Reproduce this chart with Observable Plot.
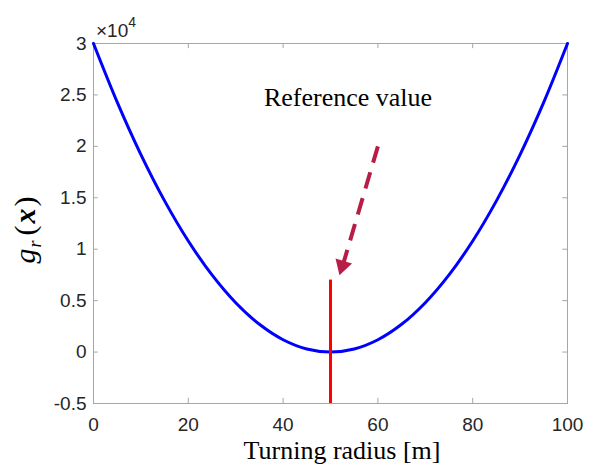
<!DOCTYPE html>
<html><head><meta charset="utf-8">
<script src="https://cdn.jsdelivr.net/npm/d3@7"></script>
<script src="https://cdn.jsdelivr.net/npm/@observablehq/plot@0.6"></script>
<style>body{margin:0;background:#fff;} svg{display:block;}</style>
</head><body><div id="chart"></div>
<script>
// Turning radius [m]
const radius = [0, 5, 10, 15, 20, 25, 30, 35, 40, 45, 50, 55, 60, 65, 70, 75, 80, 85, 90, 95, 100];
// g_r(x) values
const gValues = [30000, 24300, 19200, 14700, 10800, 7500, 4800, 2700, 1200, 300, 0, 300, 1200, 2700, 4800, 7500, 10800, 14700, 19200, 24300, 30000];
const xTicks = [0, 20, 40, 60, 80, 100];
const yTicks = [-0.5, 0, 0.5, 1, 1.5, 2, 2.5, 3];
const yTickLabels = ["-0.5", "0", "0.5", "1", "1.5", "2", "2.5", "3"];
const refX = [50];
const refTop = [0.7];
// annotation arrow (in units of 1e4 for y)
const arrowShaft = [{x1: 60, y1: 2.0, x2: 52.7, y2: 0.86}];
const arrowHead = [{x: 52.5, y: 0.84, angle: 196.7}];
const annotation = [{x: 53.7, y: 2.388, text: "Reference value"}];

const curve = radius.map((r, i) => ({r, g: gValues[i] / 1e4}));
const tickColor = "#262626";
const boxColor = "#a6a6a6";
const arrowColor = "#b81d48";

const plot = Plot.plot({
  width: 589, height: 473,
  marginLeft: 93, marginRight: 22, marginTop: 43, marginBottom: 70,
  x: {domain: [0, 100], ticks: xTicks},
  y: {domain: [-0.5, 3], ticks: yTicks},
  style: {fontFamily: "Liberation Sans, Arial, sans-serif", color: tickColor, background: "#fff"},
  marks: [
    Plot.frame({stroke: boxColor, strokeWidth: 1}),
    // inward ticks on all four sides
    Plot.ruleX(xTicks, {x: d => d, y1: -0.5, y2: -0.45, stroke: boxColor}),
    Plot.ruleX(xTicks, {x: d => d, y1: 3, y2: 2.95, stroke: boxColor}),
    Plot.ruleY(yTicks, {y: d => d, x1: 0, x2: 1, stroke: boxColor}),
    Plot.ruleY(yTicks, {y: d => d, x1: 100, x2: 99, stroke: boxColor}),
    Plot.axisX(xTicks, {tickSize: 0, tickPadding: 14, fontSize: 19, fill: tickColor, label: null}),
    Plot.axisY(yTicks, {tickSize: 0, tickPadding: 7, fontSize: 19, fill: tickColor, label: null,
      tickFormat: (d) => yTickLabels[yTicks.indexOf(d)]}),
    Plot.line(curve, {x: "r", y: "g", stroke: "#0000ff", strokeWidth: 3, curve: "catmull-rom"}),
    Plot.ruleX(refX, {x: d => d, y1: -0.5, y2: refTop[0], stroke: "#ff0000", strokeWidth: 3}),
    Plot.link(arrowShaft, {x1: "x1", y1: "y1", x2: "x2", y2: "y2",
      stroke: arrowColor, strokeWidth: 4, strokeDasharray: "17,10"}),
    Plot.dot(arrowHead, {x: "x", y: "y", symbol: "triangle", r: 6.4, rotate: "angle",
      fill: arrowColor, stroke: "none"}),
    Plot.text(annotation, {x: "x", y: "y", text: "text", lineAnchor: "bottom",
      fontFamily: "Liberation Serif, Times New Roman, serif", fontSize: 26, fill: "#000"})
  ]
});

const svg = d3.select(plot);
// x-axis title
svg.append("text").attr("x", 342).attr("y", 459).attr("text-anchor", "middle")
  .attr("font-family", "Liberation Serif, Times New Roman, serif").attr("font-size", 26).attr("fill", "#000")
  .text("Turning radius [m]");
// y-axis title g_r(x)
const yl = svg.append("text").attr("transform", "translate(35,230) rotate(-90)").attr("text-anchor", "middle")
  .attr("font-family", "Liberation Serif, Times New Roman, serif").attr("fill", "#000");
yl.append("tspan").attr("font-style", "italic").attr("font-size", 30).text("g");
yl.append("tspan").attr("font-style", "italic").attr("font-size", 18).attr("dy", 6).attr("dx", 1).text("r");
yl.append("tspan").attr("font-size", 30).attr("dy", -6).attr("dx", 5).text("(");
yl.append("tspan").attr("font-style", "italic").attr("font-weight", "bold").attr("font-size", 30).attr("dx", 2).text("x");
yl.append("tspan").attr("font-size", 30).attr("dx", 2).text(")");
// exponent label
const ex = svg.append("text").attr("x", 96).attr("y", 37).attr("text-anchor", "start")
  .attr("font-family", "Liberation Sans, Arial, sans-serif").attr("font-size", 19).attr("fill", tickColor);
ex.append("tspan").text("\u00d710");
ex.append("tspan").attr("font-size", 14).attr("dy", -10).text("4");

document.getElementById("chart").appendChild(plot);
</script></body></html>
